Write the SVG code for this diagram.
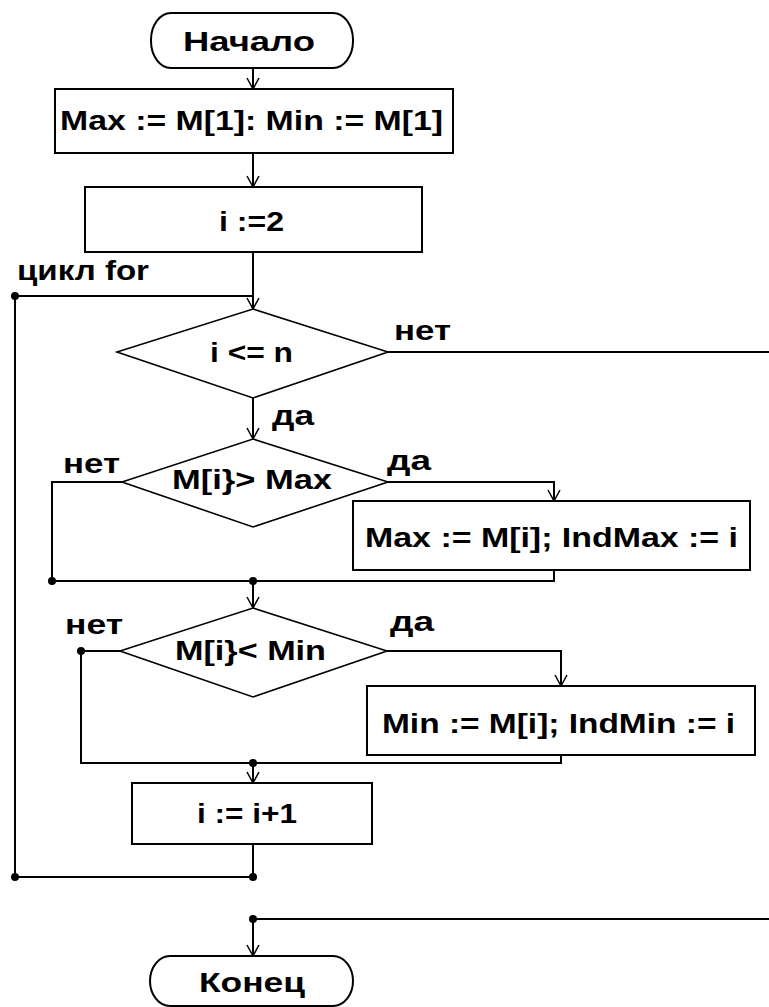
<svg xmlns="http://www.w3.org/2000/svg" width="769" height="1007" viewBox="0 0 769 1007">
<style>
.s{fill:#fff;stroke:#000;stroke-width:2}
.d{fill:#fff;stroke:#000;stroke-width:1.6}
.c{fill:none;stroke:#000;stroke-width:2}
.a{fill:none;stroke:#000;stroke-width:2;marker-end:url(#arr)}
.t{font-family:"Liberation Sans",Arial,sans-serif;font-weight:bold;font-size:27px;fill:#000}
.dot{fill:#000}
</style>
<defs>
<marker id="arr" markerUnits="userSpaceOnUse" markerWidth="14" markerHeight="16" viewBox="-12 -8 14 16" refX="0" refY="0" orient="auto">
<path d="M-11,-6 L0,0 L-11,6" fill="none" stroke="#000" stroke-width="1.5"/>
</marker>
</defs>
<rect width="769" height="1007" fill="#fff"/>
<g id="connectors">
<path class="a" d="M253,68 V89"/>
<path class="a" d="M253,153 V187"/>
<path class="a" d="M253,252 V309"/>
<path class="c" d="M15,296 H253"/>
<path class="c" d="M15,296 V877 H253"/>
<path class="c" d="M388,352 H769"/>
<path class="a" d="M253,398 V439"/>
<path class="c" d="M122,482 H52 V581 H554 V570"/>
<path class="a" d="M388,482 H554 V501"/>
<path class="a" d="M253,581 V608"/>
<path class="c" d="M120,651 H81 V763 H561 V755"/>
<path class="a" d="M387,651 H561 V686"/>
<path class="a" d="M253,763 V783"/>
<path class="c" d="M253,844 V877"/>
<path class="c" d="M769,919 H253"/>
<path class="a" d="M253,919 V956"/>
<circle class="dot" cx="15" cy="296" r="4"/>
<circle class="dot" cx="52" cy="581" r="4"/>
<circle class="dot" cx="253" cy="581" r="4"/>
<circle class="dot" cx="81" cy="651" r="4"/>
<circle class="dot" cx="253" cy="763" r="4"/>
<circle class="dot" cx="253" cy="877" r="4"/>
<circle class="dot" cx="15" cy="877" r="4"/>
<circle class="dot" cx="253" cy="919" r="4"/>
</g>
<g id="start">
<rect class="s" x="151" y="13" width="202" height="55" rx="20" ry="27"/>
<text class="t" x="183" y="51" textLength="132" lengthAdjust="spacingAndGlyphs">Начало</text>
</g>
<g id="init">
<rect class="s" x="55" y="89" width="398" height="64"/>
<text class="t" x="60" y="130" textLength="383" lengthAdjust="spacingAndGlyphs">Max := M[1]: Min := M[1]</text>
</g>
<g id="i2">
<rect class="s" x="85" y="187" width="337" height="65"/>
<text class="t" x="219" y="231" textLength="65" lengthAdjust="spacingAndGlyphs">i :=2</text>
</g>
<g id="loop-label">
<text class="t" x="17" y="280" textLength="132" lengthAdjust="spacingAndGlyphs">цикл for</text>
</g>
<g id="cond-n">
<polygon class="d" points="253,309 388,352 253,398 117,352"/>
<text class="t" x="210" y="362" textLength="83" lengthAdjust="spacingAndGlyphs">i &lt;= n</text>
<text class="t" x="394" y="340" textLength="57" lengthAdjust="spacingAndGlyphs">нет</text>
<text class="t" x="272" y="425" textLength="42" lengthAdjust="spacingAndGlyphs">да</text>
</g>
<g id="cond-max">
<polygon class="d" points="253,439 388,482 253,527 122,482"/>
<text class="t" x="172" y="489" textLength="160" lengthAdjust="spacingAndGlyphs">M[i}&gt; Max</text>
<text class="t" x="63" y="473" textLength="57" lengthAdjust="spacingAndGlyphs">нет</text>
<text class="t" x="387" y="470" textLength="44" lengthAdjust="spacingAndGlyphs">да</text>
</g>
<g id="set-max">
<rect class="s" x="353" y="501" width="397" height="69"/>
<text class="t" x="365" y="547" textLength="373" lengthAdjust="spacingAndGlyphs">Max := M[i]; IndMax := i</text>
</g>
<g id="cond-min">
<polygon class="d" points="253,608 387,651 253,697 120,651"/>
<text class="t" x="175" y="660" textLength="151" lengthAdjust="spacingAndGlyphs">M[i}&lt; Min</text>
<text class="t" x="65" y="634" textLength="58" lengthAdjust="spacingAndGlyphs">нет</text>
<text class="t" x="390" y="631" textLength="44" lengthAdjust="spacingAndGlyphs">да</text>
</g>
<g id="set-min">
<rect class="s" x="367" y="686" width="388" height="69"/>
<text class="t" x="382" y="733" textLength="353" lengthAdjust="spacingAndGlyphs">Min := M[i]; IndMin := i</text>
</g>
<g id="inc">
<rect class="s" x="132" y="783" width="240" height="61"/>
<text class="t" x="197" y="823" textLength="100" lengthAdjust="spacingAndGlyphs">i := i+1</text>
</g>
<g id="end">
<rect class="s" x="150" y="956" width="203" height="50" rx="20" ry="25"/>
<text class="t" x="199" y="992" textLength="106" lengthAdjust="spacingAndGlyphs">Конец</text>
</g>
</svg>
